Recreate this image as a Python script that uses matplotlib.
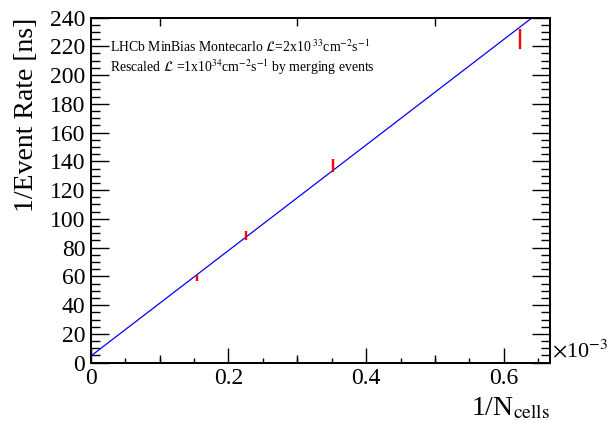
import numpy as np
import matplotlib
matplotlib.use("Agg")
import matplotlib.pyplot as plt
from matplotlib.ticker import MultipleLocator, FixedLocator, NullFormatter

plt.rcParams['font.family'] = ['Liberation Serif', 'DejaVu Serif']
plt.rcParams['mathtext.fontset'] = 'stix'

# data (x in units of 1e-3)
inv_ncells = [0.154, 0.225, 0.352, 0.623]
inv_rate = [59.0, 88.5, 137.2, 225.0]
inv_rate_err = [2.3, 3.2, 4.7, 7.2]

fit_intercept = 4.6
fit_slope = 367.0  # ns per 1e-3

xlim = (0, 0.667)
ylim = (0, 240)
x_ticks = [0, 0.2, 0.4, 0.6]
x_ticklabels = ['0', '0.2', '0.4', '0.6']
x_mid_ticks = [0.1, 0.3, 0.5]
y_ticks = list(range(0, 241, 20))

fig = plt.figure(figsize=(6.08, 4.24), dpi=100)
ax = fig.add_axes([0.1493, 0.1446, 0.9046 - 0.1493, 0.9587 - 0.1446])

xx = np.linspace(xlim[0], xlim[1], 200)
ax.plot(xx, fit_intercept + fit_slope * xx, color='#0000ff', lw=0.9)
ax.errorbar(inv_ncells, inv_rate, yerr=inv_rate_err, fmt='none',
            ecolor='#ff0000', elinewidth=1.7, capsize=0)

ax.set_xlim(*xlim)
ax.set_ylim(*ylim)

ax.xaxis.set_major_locator(FixedLocator(x_ticks))
ax.set_xticklabels(x_ticklabels)
ax.xaxis.set_minor_locator(MultipleLocator(0.05))
ax.yaxis.set_major_locator(FixedLocator(y_ticks))
ax.yaxis.set_minor_locator(MultipleLocator(5))

ax.tick_params(axis='x', which='major', direction='in', top=True, bottom=True,
               length=10.5, width=1.0, labelsize=17, pad=4)
ax.tick_params(axis='x', which='minor', direction='in', top=True, bottom=True,
               length=3.5, width=1.0)
ax.tick_params(axis='y', which='major', direction='in', left=True, right=True,
               length=13, width=1.0, labelsize=17, pad=4)
ax.tick_params(axis='y', which='minor', direction='in', left=True, right=True,
               length=6.5, width=1.0)

# intermediate x ticks (ROOT-style secondary divisions)
ax2 = ax.twiny()
ax2.set_xlim(*xlim)
ax2.xaxis.set_major_locator(FixedLocator(x_mid_ticks))
ax2.xaxis.set_major_formatter(NullFormatter())
ax2.tick_params(axis='x', which='major', direction='in', top=True, bottom=True,
                length=6, width=1.0)
ax2.tick_params(axis='x', which='minor', length=0)

for a in (ax, ax2):
    for s in a.spines.values():
        s.set_linewidth(1.3)

ax.set_ylabel('1/Event Rate [ns]', fontsize=20, labelpad=4)
ax.yaxis.set_label_coords(-0.112, 1.0)
ax.yaxis.label.set_horizontalalignment('right')

fig.text(0.905, 0.005, r'1/N$_{\mathrm{cells}}$', fontsize=20, ha='right', va='bottom')
fig.text(0.908, 0.145, r'$\times$10$^{-3}$', fontsize=16, ha='left', va='bottom')

ax.text(0.042, 0.915,
        r'LHCb MinBias Montecarlo $\mathcal{L}$=2x10$^{\ 33}$cm$^{-2}$s$^{-1}$',
        transform=ax.transAxes, fontsize=9.9, ha='left', va='center')
ax.text(0.042, 0.855,
        r'Rescaled $\mathcal{L}$ =1x10$^{34}$cm$^{-2}$s$^{-1}$ by merging events',
        transform=ax.transAxes, fontsize=9.9, ha='left', va='center')

fig.savefig('out.png', dpi=100)
